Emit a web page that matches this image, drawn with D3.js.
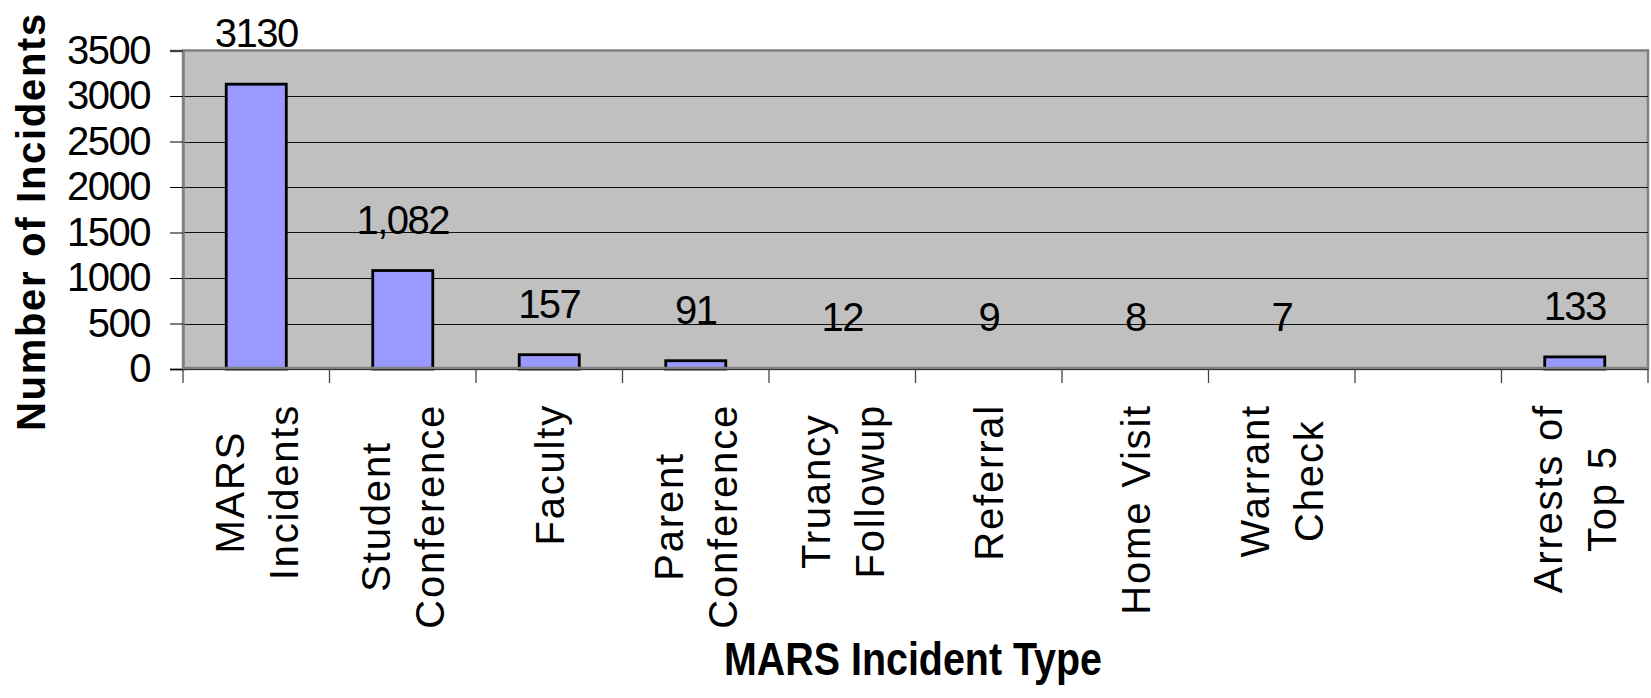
<!DOCTYPE html>
<html>
<head>
<meta charset="utf-8">
<script src="https://cdn.jsdelivr.net/npm/d3@7"></script>
<style>
  body { margin: 0; background: #fff; }
  svg { display: block; }
  text { font-family: "Liberation Sans", Arial, sans-serif; fill: #000; }
</style>
</head>
<body>
<script>
// chart data
const categories = ["MARS\nIncidents", "Student\nConference", "Faculty", "Parent\nConference",
  "Truancy\nFollowup", "Referral", "Home Visit", "Warrant\nCheck", "", "Arrests of\nTop 5"]
const values = [3130, 1082, 157, 91, 12, 9, 8, 7, null, 133]
const valueLabels = ["3130", "1,082", "157", "91", "12", "9", "8", "7", "", "133"]
const yTicks = [0, 500, 1000, 1500, 2000, 2500, 3000, 3500]
const yTitle = "Number of Incidents"
const xTitle = "MARS Incident Type"

let w = 1651, h = 698
let plotLeft = 183, plotRight = 1648, plotTop = 50.5, plotBottom = 369

let svg = d3.select("body").append("svg")
    .attr("width", w)
    .attr("height", h)

let xScale = d3.scaleBand()
    .domain(categories)
    .range([plotLeft, plotRight])
    .paddingInner(0.59)
    .paddingOuter(0.295)
let step = xScale.step()

let yScale = d3.scaleLinear()
    .domain([0, 3500])
    .range([plotBottom, plotTop])

// plot area
svg.append("rect")
    .attr("x", plotLeft)
    .attr("y", plotTop)
    .attr("width", plotRight-plotLeft)
    .attr("height", plotBottom-plotTop)
    .attr("fill", "#c0c0c0")
    .attr("stroke", "#808080")
    .attr("stroke-width", 2.5)

// gridlines
svg.selectAll("line.grid")
    .data(yTicks.filter(d=>d>0 && d<3500))
    .enter()
    .append("line")
    .attr("class", "grid")
    .attr("x1", plotLeft)
    .attr("x2", plotRight)
    .attr("y1", d=>Math.round(yScale(d))+0.5)
    .attr("y2", d=>Math.round(yScale(d))+0.5)
    .attr("stroke", "#111")
    .attr("stroke-width", 1)

// y axis
let yAxis = d3.axisLeft(yScale)
    .tickValues(yTicks)
    .tickSize(13)
    .tickPadding(20)
    .tickFormat(d=>d)
let gy = svg.append("g")
    .attr("transform", `translate(${plotLeft}, 0)`)
    .call(yAxis)
gy.select(".domain").attr("stroke", "#808080").attr("stroke-width", 2.5)
gy.selectAll(".tick line").attr("stroke", "#000")
gy.selectAll(".tick text")
    .attr("font-size", 40)
    .attr("letter-spacing", "-1.5px")
    .attr("font-family", "Liberation Sans, Arial, sans-serif")
    .attr("fill", "#000")

// bars (bars only a pixel tall vanish into the axis, as in the original)
let barData = categories.map((c,i)=>({c:c, v:values[i], label:valueLabels[i]}))
svg.selectAll("rect.bar")
    .data(barData.filter(d=>d.v!==null))
    .enter()
    .append("rect")
    .attr("class", "bar")
    .attr("x", d=>xScale(d.c))
    .attr("y", d=>yScale(d.v))
    .attr("width", xScale.bandwidth())
    .attr("height", d=>yScale(0)-yScale(d.v))
    .attr("fill", "#9999ff")
    .attr("stroke", d=>yScale(0)-yScale(d.v)<2 ? "none" : "#000")
    .attr("stroke-width", 2.8)

// x axis line and ticks at band edges
svg.append("line")
    .attr("x1", plotLeft)
    .attr("x2", plotRight)
    .attr("y1", plotBottom-1)
    .attr("y2", plotBottom-1)
    .attr("stroke", "#808080")
    .attr("stroke-width", 2.5)
svg.append("line")
    .attr("x1", plotLeft)
    .attr("x2", plotRight)
    .attr("y1", plotBottom+0.5)
    .attr("y2", plotBottom+0.5)
    .attr("stroke", "#333")
    .attr("stroke-width", 1)
svg.selectAll("line.xtick")
    .data(d3.range(categories.length+1))
    .enter()
    .append("line")
    .attr("class", "xtick")
    .attr("x1", i=>plotLeft+i*step)
    .attr("x2", i=>plotLeft+i*step)
    .attr("y1", plotBottom)
    .attr("y2", plotBottom+14)
    .attr("stroke", "#444")
    .attr("stroke-width", 1.3)

// value labels
svg.selectAll("text.value")
    .data(barData.filter(d=>d.v!==null))
    .enter()
    .append("text")
    .attr("class", "value")
    .attr("x", d=>xScale(d.c)+xScale.bandwidth()/2)
    .attr("y", d=>yScale(d.v)-37)
    .attr("text-anchor", "middle")
    .attr("font-size", 40)
    .attr("letter-spacing", "-1.5px")
    .text(d=>d.label)

// category labels, rotated, lines centred inside a block that starts below the axis
let fs = 40, lineH = 54, capH = 0.716*fs, labelTop = 404
categories.forEach(c=>{
    if(!c) return
    let lines = c.split("\n")
    let cx = xScale(c)+xScale.bandwidth()/2
    let g = svg.append("g").attr("transform", `translate(${cx}, 0) rotate(-90)`)
    let texts = lines.map((t,i)=>g.append("text")
        .attr("font-size", fs)
        .attr("letter-spacing", "1.8px")
        .attr("text-anchor", "middle")
        .attr("y", -(capH+(lines.length-1)*lineH)/2+capH+i*lineH)
        .text(t))
    let maxLen = d3.max(texts, t=>t.node().getComputedTextLength())
    texts.forEach(t=>t.attr("x", -(labelTop+maxLen/2)))
})

// axis titles
svg.append("text")
    .attr("transform", `translate(45, 221.5) rotate(-90)`)
    .attr("text-anchor", "middle")
    .attr("font-size", 40)
    .attr("font-weight", "bold")
    .attr("letter-spacing", "1.7px")
    .text(yTitle)

svg.append("text")
    .attr("x", 913)
    .attr("y", 675)
    .attr("text-anchor", "middle")
    .attr("font-size", 46)
    .attr("font-weight", "bold")
    .attr("textLength", 378)
    .attr("lengthAdjust", "spacingAndGlyphs")
    .text(xTitle)
</script>
</body>
</html>
